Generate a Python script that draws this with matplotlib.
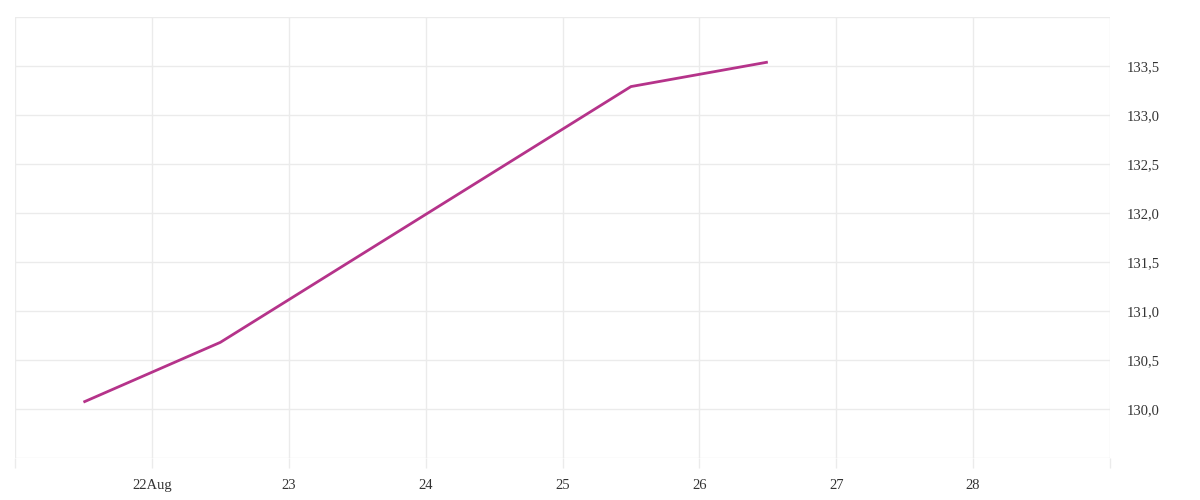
import numpy as np
import pandas as pd
import matplotlib
matplotlib.use('Agg')
import matplotlib.pyplot as plt

# data (one point per day, at noon)
dates = pd.to_datetime(['2023-08-21 12:00', '2023-08-22 12:00', '2023-08-23 12:00',
                        '2023-08-24 12:00', '2023-08-25 12:00', '2023-08-26 12:00'])
values = [130.07, 130.68, 131.55, 132.42, 133.29, 133.54]

tick_days = pd.date_range('2023-08-21', '2023-08-29', freq='D')
tick_labels = ['', '22Aug', '23', '24', '25', '26', '27', '28', '']
y_ticks = np.arange(129.5, 134.01, 0.5)
y_labels = ['' if (v < 130 or v > 133.6) else f'{v:.1f}'.replace('.', ',') for v in y_ticks]

plt.rcParams['font.family'] = ['Liberation Serif', 'DejaVu Serif']
grid_c = '#ebebeb'

fig = plt.figure(figsize=(12, 5), dpi=100)
ax = fig.add_axes((15/1200, 42/500, 1095/1200, 441/500))

ax.plot(dates, values, color='#b5338a', lw=2.0, solid_capstyle='butt', zorder=3)

ax.set_xlim(tick_days[0], tick_days[-1])
ax.set_ylim(129.5, 134.0)
ax.set_xticks(tick_days)
ax.set_xticklabels(tick_labels)
ax.set_yticks(y_ticks)
ax.set_yticklabels(y_labels)
ax.yaxis.tick_right()

ax.grid(True, color=grid_c, lw=1)
for s in ax.spines.values():
    s.set_visible(False)
ax.tick_params(axis='x', length=7, width=1, color=grid_c, pad=8, labelsize=10.5, labelcolor='#333333')
ax.tick_params(axis='y', length=0, pad=12, labelsize=10.5, labelcolor='#333333')
for lab in ax.get_yticklabels():
    lab.set_horizontalalignment('left')

fig.savefig('out.png', dpi=100, facecolor='white')
